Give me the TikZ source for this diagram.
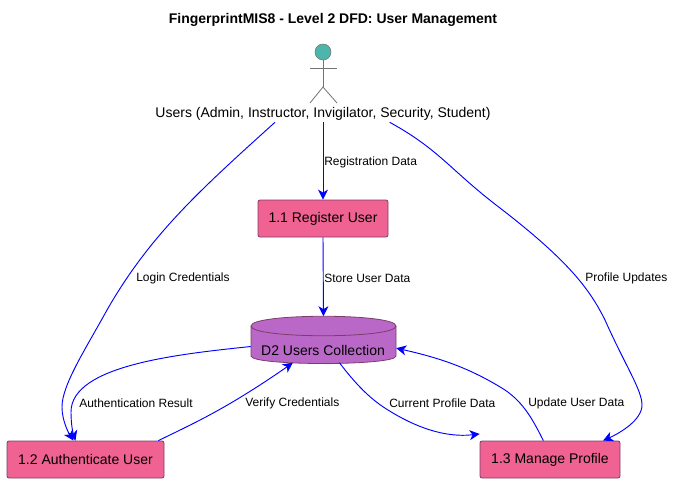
\documentclass[tikz,border=0pt]{standalone}
\usepackage{fontspec}
\setmainfont{Liberation Sans}
\usepackage{xcolor}
\usetikzlibrary{arrows.meta, positioning, calc}
\definecolor{procfill}{HTML}{F06292}
\definecolor{storefill}{HTML}{BA68C8}
\definecolor{headfill}{HTML}{4DB6AC}
\definecolor{edgedark}{HTML}{7A3E68}

\begin{document}
\begin{tikzpicture}[
      x=0.75pt, y=-0.75pt,
      proc/.style={draw=edgedark, fill=procfill, rounded corners=1.5pt, font=\fontsize{10.5}{12}\selectfont,
        minimum height=27.75pt, inner sep=0pt, line width=0.6pt},
      lbl/.style={font=\fontsize{9}{11}\selectfont, anchor=west, inner sep=0pt},
      arr/.style={-{Stealth[inset=2.2pt, length=7.5pt, width=7.5pt]}, draw=blue, line width=0.7pt},
      stick/.style={draw=black!55, line width=0.6pt}
    ]
    \useasboundingbox (0,0) rectangle (679,483);

    \node[font=\bfseries\fontsize{10.5}{12}\selectfont] (title) at (333,20) {FingerprintMIS8 - Level 2 DFD: User Management};

    % actor
    \node[circle, draw=black!55, fill=headfill, minimum size=12pt, inner sep=0pt] (head) at (323,52) {};
    \coordinate (hip) at (323,87);
    \coordinate (arml) at (310,68);
    \coordinate (armr) at (337,68);
    \coordinate (legl) at (310,103);
    \coordinate (legr) at (337,103);
    \draw[stick] (head.south) -- (hip);
    \draw[stick] (arml) -- (armr);
    \draw[stick] (legl) -- (hip) -- (legr);
    \node[font=\fontsize{10.5}{12}\selectfont, inner sep=0pt, minimum height=12pt] (users) at (323,114) {Users (Admin, Instructor, Invigilator, Security, Student)};

    \node[proc, minimum width=97.5pt] (register) at (323,218.5) {1.1 Register User};
    \node[proc, minimum width=117.75pt] (auth) at (85.5,459.5) {1.2 Authenticate User};
    \node[proc, minimum width=105pt] (manage) at (550,459.5) {1.3 Manage Profile};

    % data store
    \node[minimum width=108.75pt, minimum height=34.5pt, inner sep=0pt] (store) at (323.5,339.5) {};
    \draw[draw=edgedark, fill=storefill, line width=0.6pt] (251,326) .. controls (251,313) and (396,313) .. (396,326)
      -- (396,356) .. controls (396,366) and (251,366) .. (251,356) -- cycle;
    \draw[draw=edgedark, line width=0.6pt] (251,326) .. controls (251,339) and (396,339) .. (396,326);
    \node[font=\fontsize{10.5}{12}\selectfont, inner sep=0pt] (storetxt) at (323,350) {D2 Users Collection};

    \draw[arr] (users.south) -- (register.north);
    \draw[arr] (register.south) -- (store.north);
    \draw[arr] ([xshift=-36pt]users.south) .. controls (200,190) and (150,235) .. (107,310)
      .. controls (85,350) and (62,385) .. (62,407) .. controls (62,420) and (68,432) .. ([xshift=-9pt]auth.north);
    \draw[arr] ([yshift=-5.25pt]store.west) .. controls (180,354) and (71,365) .. (71,412)
      .. controls (71,425) and (73,433) .. ([xshift=-7.5pt]auth.north);
    \draw[arr] ([xshift=-4.5pt]auth.north east) .. controls (190,425) and (225,410) .. ([xshift=-23pt]store.south);
    \draw[arr] ([xshift=12pt]store.south) .. controls (360,390) and (375,402) .. (388,410) .. controls (415,427) and (445,438) .. ([yshift=5pt]manage.north west);
    \draw[arr] ([xshift=-5pt]manage.north) .. controls (533,420) and (524,403) .. (505,390) .. controls (470,368) and (440,358) .. ([yshift=-6.5pt]store.east);
    \draw[arr] ([xshift=50pt]users.south) .. controls (440,150) and (450,170) .. (500,208) .. controls (570,262) and (590,290) .. (605,320)
      .. controls (625,365) and (642,390) .. (642,405) .. controls (642,420) and (620,433) .. ([xshift=-13pt]manage.north east);

    \node[lbl] (l1) at (324,162) {Registration Data};
    \node[lbl] (l2) at (324,278) {Store User Data};
    \node[lbl] (l3) at (136,278) {Login Credentials};
    \node[lbl] (l4) at (585,278) {Profile Updates};
    \node[lbl] (l5) at (79,403) {Authentication Result};
    \node[lbl] (l6) at (245,403) {Verify Credentials};
    \node[lbl] (l7) at (389,403) {Current Profile Data};
    \node[lbl] (l8) at (528,403) {Update User Data};
  \end{tikzpicture}
\end{document}
